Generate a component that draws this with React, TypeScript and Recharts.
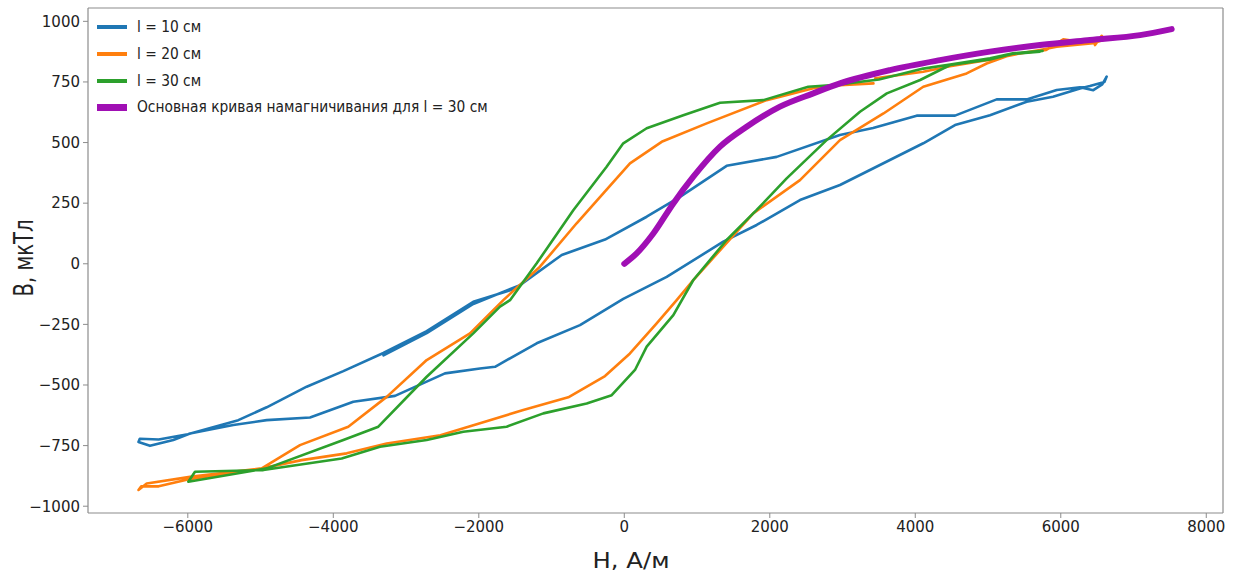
import { LineChart, Line, XAxis, YAxis, ReferenceLine } from 'recharts';

// H (А/м) and B (мкТл), in drawing order
const loop10 = [
  { h: -3310, b: -378 }, { h: -2716, b: -286 }, { h: -2076, b: -166 }, { h: -1434, b: -88 },
  { h: -860, b: 36 }, { h: -265, b: 100 }, { h: 308, b: 194 }, { h: 766, b: 276 },
  { h: 1407, b: 404 }, { h: 2095, b: 441 }, { h: 2963, b: 531 }, { h: 3420, b: 560 },
  { h: 4019, b: 611 }, { h: 4546, b: 611 }, { h: 5119, b: 678 }, { h: 5531, b: 678 },
  { h: 5944, b: 717 }, { h: 6264, b: 728 }, { h: 6447, b: 716 }, { h: 6570, b: 740 },
  { h: 6631, b: 772 }, { h: 6600, b: 750 }, { h: 6400, b: 733 }, { h: 6264, b: 723 },
  { h: 5893, b: 689 }, { h: 5531, b: 668 }, { h: 5027, b: 613 }, { h: 4546, b: 572 },
  { h: 4110, b: 497 }, { h: 3425, b: 394 }, { h: 2965, b: 325 }, { h: 2415, b: 263 },
  { h: 1820, b: 160 }, { h: 1361, b: 91 }, { h: 583, b: -54 }, { h: -14, b: -145 },
  { h: -609, b: -253 }, { h: -1204, b: -328 }, { h: -1777, b: -425 }, { h: -1984, b: -432 },
  { h: -2465, b: -452 }, { h: -3152, b: -545 }, { h: -3725, b: -569 }, { h: -4320, b: -634 },
  { h: -4916, b: -645 }, { h: -5375, b: -665 }, { h: -5970, b: -700 }, { h: -6199, b: -727 },
  { h: -6520, b: -751 }, { h: -6678, b: -735 }, { h: -6660, b: -722 }, { h: -6400, b: -725 },
  { h: -6000, b: -703 }, { h: -5306, b: -645 }, { h: -4916, b: -592 }, { h: -4366, b: -507 },
  { h: -3862, b: -443 }, { h: -3312, b: -368 }, { h: -2716, b: -278 }, { h: -2076, b: -157 },
  { h: -1600, b: -112 }, { h: -1480, b: -100 },
];

const loop20 = [
  { h: 3450, b: 765 }, { h: 4110, b: 792 }, { h: 4478, b: 815 }, { h: 4981, b: 840 },
  { h: 5481, b: 870 }, { h: 5800, b: 882 }, { h: 6034, b: 926 }, { h: 6264, b: 916 },
  { h: 6447, b: 923 }, { h: 6471, b: 902 }, { h: 6562, b: 940 }, { h: 6600, b: 925 },
  { h: 6447, b: 910 }, { h: 6264, b: 905 }, { h: 5944, b: 895 }, { h: 5714, b: 882 },
  { h: 5302, b: 861 }, { h: 4981, b: 826 }, { h: 4706, b: 785 }, { h: 4110, b: 730 },
  { h: 3563, b: 620 }, { h: 2965, b: 510 }, { h: 2415, b: 345 }, { h: 1773, b: 208 },
  { h: 949, b: -67 }, { h: 720, b: -150 }, { h: 445, b: -246 }, { h: 78, b: -370 },
  { h: -265, b: -463 }, { h: -770, b: -551 }, { h: -1389, b: -603 }, { h: -1984, b: -658 },
  { h: -2528, b: -707 }, { h: -3266, b: -741 }, { h: -3816, b: -782 }, { h: -4435, b: -810 },
  { h: -4984, b: -844 }, { h: -5970, b: -879 }, { h: -6565, b: -906 }, { h: -6678, b: -933 },
  { h: -6640, b: -918 }, { h: -6400, b: -918 }, { h: -6000, b: -890 }, { h: -4984, b: -844 },
  { h: -4458, b: -748 }, { h: -3794, b: -672 }, { h: -3266, b: -549 }, { h: -2716, b: -397 },
  { h: -2121, b: -287 }, { h: -1663, b: -150 }, { h: -1159, b: -12 }, { h: -655, b: 167 },
  { h: -289, b: 290 }, { h: 78, b: 414 }, { h: 514, b: 503 }, { h: 1133, b: 579 },
  { h: 1957, b: 675 }, { h: 2598, b: 724 }, { h: 2965, b: 737 }, { h: 3425, b: 744 },
];

const loop30 = [
  { h: 5750, b: 878 }, { h: 5343, b: 868 }, { h: 5027, b: 848 }, { h: 4478, b: 822 },
  { h: 4110, b: 805 }, { h: 3500, b: 760 }, { h: 2873, b: 737 }, { h: 2529, b: 730 },
  { h: 1911, b: 675 }, { h: 1316, b: 664 }, { h: 811, b: 613 }, { h: 308, b: 559 },
  { h: -14, b: 497 }, { h: -243, b: 400 }, { h: -701, b: 221 }, { h: -1204, b: 2 },
  { h: -1571, b: -150 }, { h: -1709, b: -177 }, { h: -2076, b: -287 }, { h: -2716, b: -466 },
  { h: -3381, b: -672 }, { h: -3862, b: -727 }, { h: -4916, b: -844 }, { h: -5993, b: -899 },
  { h: -5901, b: -858 }, { h: -4962, b: -851 }, { h: -3885, b: -803 }, { h: -3358, b: -755 },
  { h: -2716, b: -727 }, { h: -2213, b: -693 }, { h: -1617, b: -672 }, { h: -1113, b: -617 },
  { h: -517, b: -576 }, { h: -173, b: -542 }, { h: 147, b: -438 }, { h: 308, b: -342 },
  { h: 674, b: -212 }, { h: 949, b: -67 }, { h: 1407, b: 98 }, { h: 1820, b: 222 },
  { h: 2232, b: 352 }, { h: 2781, b: 510 }, { h: 3240, b: 627 }, { h: 3609, b: 703 },
  { h: 4067, b: 758 }, { h: 4478, b: 820 }, { h: 5027, b: 843 }, { h: 5343, b: 866 },
  { h: 5714, b: 875 },
];

const mainCurve = [
  { h: 0, b: 0 }, { h: 170, b: 43 }, { h: 399, b: 125 }, { h: 674, b: 249 },
  { h: 949, b: 359 }, { h: 1316, b: 483 }, { h: 1682, b: 565 }, { h: 2140, b: 648 },
  { h: 2598, b: 703 }, { h: 2965, b: 744 }, { h: 3653, b: 799 }, { h: 4340, b: 840 },
  { h: 5027, b: 875 }, { h: 5714, b: 902 }, { h: 6401, b: 923 }, { h: 7089, b: 943 },
  { h: 7524, b: 968 },
];

const xTicks = [-6000, -4000, -2000, 0, 2000, 4000, 6000, 8000];
const yTicks = [-1000, -750, -500, -250, 0, 250, 500, 750, 1000];

const SERIES = [
  { key: 'l10', name: 'l = 10 см', data: loop10, color: '#1f77b4', width: 2.6 },
  { key: 'l20', name: 'l = 20 см', data: loop20, color: '#ff7f0e', width: 2.6 },
  { key: 'l30', name: 'l = 30 см', data: loop30, color: '#2ca02c', width: 2.6 },
  { key: 'main', name: 'Основная кривая намагничивания для l = 30 см', data: mainCurve, color: '#a00fb4', width: 6 },
];

const FONT = '"DejaVu Sans", sans-serif';
const SPINE = '#8c8c8c';

const fmtTick = (v: number) => String(v).replace('-', '\u2212');

function LegendBox() {
  return (
    <div style={{ position: 'absolute', left: 97, top: 14, fontFamily: FONT, fontSize: 15, color: '#222', pointerEvents: 'none' }}>
      {SERIES.map((s) => (
        <div key={s.key} style={{ display: 'flex', alignItems: 'center', height: 26.7, whiteSpace: 'nowrap' }}>
          <div style={{ width: 30, height: s.key === 'main' ? 7 : 4, background: s.color, marginRight: 10, flex: 'none' }} />
          <span style={{ display: 'inline-block', transform: 'scaleX(0.92)', transformOrigin: 'left center' }}>{s.name}</span>
        </div>
      ))}
    </div>
  );
}

function YTitle() {
  return (
    <text
      x={33}
      y={258}
      transform="rotate(-90, 33, 258)"
      textAnchor="middle"
      fontFamily={FONT}
      fontSize={27}
      fill="#222"
      textLength={77}
      lengthAdjust="spacingAndGlyphs"
    >
      B, мкТл
    </text>
  );
}

function XTitle() {
  return (
    <text
      x={631}
      y={568}
      textAnchor="middle"
      fontFamily={FONT}
      fontSize={22}
      fill="#222"
      textLength={77}
      lengthAdjust="spacingAndGlyphs"
    >
      H, А/м
    </text>
  );
}

export default function App() {
  return (
    <div style={{ position: 'absolute', left: 0, top: 0, width: 1240, height: 574, background: '#fff' }}>
      <LineChart width={1240} height={574} margin={{ top: 8, right: 17, left: 0, bottom: 0 }}>
        <XAxis
          type="number"
          dataKey="h"
          domain={[-7372, 8230]}
          ticks={xTicks}
          tickFormatter={fmtTick}
          allowDataOverflow
          height={61}
          tickSize={5}
          tickMargin={3}
          axisLine={{ stroke: SPINE, strokeWidth: 1.2 }}
          tickLine={{ stroke: SPINE }}
          tick={{ fill: '#222', fontSize: 15, fontFamily: FONT }}
          label={<XTitle />}
        />
        <YAxis
          type="number"
          dataKey="b"
          domain={[-1028, 1055]}
          ticks={yTicks}
          tickFormatter={fmtTick}
          allowDataOverflow
          width={88}
          tickSize={5}
          tickMargin={3}
          axisLine={{ stroke: SPINE, strokeWidth: 1.2 }}
          tickLine={{ stroke: SPINE }}
          tick={{ fill: '#222', fontSize: 15, fontFamily: FONT }}
          label={<YTitle />}
        />
        <ReferenceLine y={1055} stroke={SPINE} strokeWidth={1.2} />
        <ReferenceLine x={8230} stroke={SPINE} strokeWidth={1.2} />
        {SERIES.map((s) => (
          <Line
            key={s.key}
            data={s.data}
            dataKey="b"
            name={s.name}
            type={s.key === 'main' ? 'monotone' : 'linear'}
            stroke={s.color}
            strokeWidth={s.width}
            strokeLinejoin="round"
            strokeLinecap="round"
            dot={false}
            activeDot={false}
            isAnimationActive={false}
          />
        ))}
      </LineChart>
      <LegendBox />
    </div>
  );
}
